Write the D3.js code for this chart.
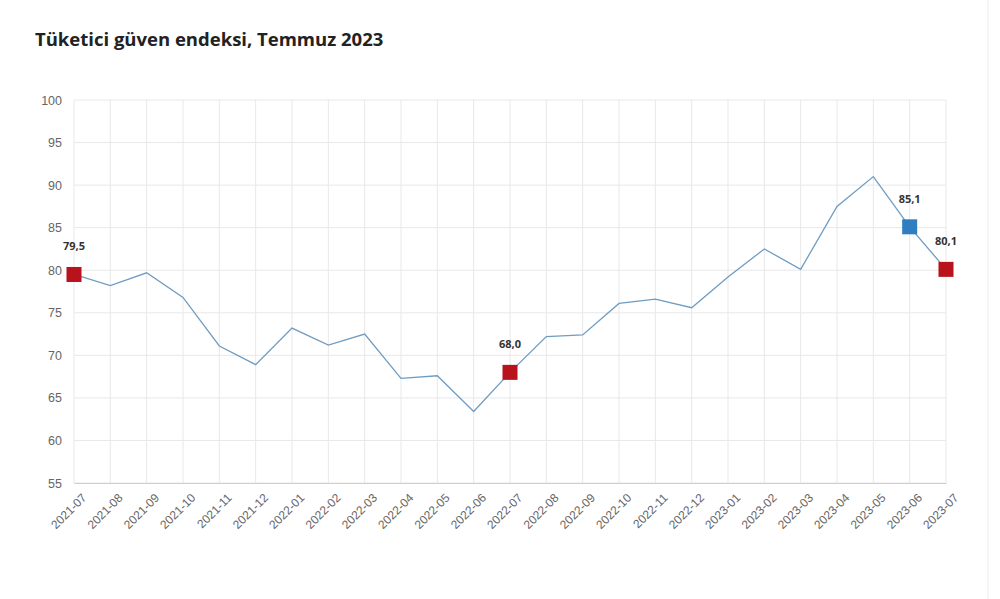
<!DOCTYPE html>
<html>
<head>
<meta charset="utf-8">
<script src="https://cdn.jsdelivr.net/npm/d3@7"></script>
<style>
  body { margin: 0; background: #fff; }
  svg { display: block; font-family: "Open Sans", "Noto Sans", sans-serif; }
</style>
</head>
<body>
<div id="chart"></div>
<script>
// data
const months = [
  "2021-07", "2021-08", "2021-09", "2021-10", "2021-11", "2021-12",
  "2022-01", "2022-02", "2022-03", "2022-04", "2022-05", "2022-06",
  "2022-07", "2022-08", "2022-09", "2022-10", "2022-11", "2022-12",
  "2023-01", "2023-02", "2023-03", "2023-04", "2023-05", "2023-06", "2023-07"
];
const values = [
  79.5, 78.2, 79.7, 76.8, 71.1, 68.9,
  73.2, 71.2, 72.5, 67.3, 67.6, 63.4,
  68.0, 72.2, 72.4, 76.1, 76.6, 75.6,
  79.2, 82.5, 80.1, 87.5, 91.0, 85.1, 80.1
];
const highlights = [
  {month: "2021-07", kind: "red"},
  {month: "2022-07", kind: "red"},
  {month: "2023-06", kind: "blue"},
  {month: "2023-07", kind: "red"}
];
const yTicks = [55, 60, 65, 70, 75, 80, 85, 90, 95, 100];
const title = "Tüketici güven endeksi, Temmuz 2023";

const width = 1000, height = 599;
const margin = {top: 100, right: 54, bottom: 116, left: 74};
const innerW = width - margin.left - margin.right;
const innerH = height - margin.top - margin.bottom;

const data = months.map((m, i) => ({month: m, value: values[i]}));

const svg = d3.select("#chart").append("svg")
  .attr("width", width)
  .attr("height", height);

// title
svg.append("text")
  .attr("x", 35)
  .attr("y", 46)
  .attr("font-size", 18.5)
  .attr("font-weight", "bold")
  .attr("fill", "#222")
  .text(title);

// faint page edge on the right
svg.append("line")
  .attr("x1", 988).attr("x2", 988)
  .attr("y1", 0).attr("y2", height)
  .attr("stroke", "#ececec");

const chart = svg.append("g")
  .attr("transform", `translate(${margin.left},${margin.top})`);

const xScale = d3.scalePoint()
  .domain(months)
  .range([0, innerW]);

const yScale = d3.scaleLinear()
  .domain([55, 100])
  .range([innerH, 0]);

// grid
chart.append("g")
  .selectAll("line")
  .data(yTicks)
  .join("line")
  .attr("x1", 0).attr("x2", innerW)
  .attr("y1", d => yScale(d)).attr("y2", d => yScale(d))
  .attr("stroke", "#e8e8e8");

chart.append("g")
  .selectAll("line")
  .data(months)
  .join("line")
  .attr("x1", d => xScale(d)).attr("x2", d => xScale(d))
  .attr("y1", 0).attr("y2", innerH)
  .attr("stroke", "#e8e8e8");

// axes
const yAxis = d3.axisLeft(yScale)
  .tickValues(yTicks)
  .tickSize(0)
  .tickPadding(12);

const yAxisGroup = chart.append("g").call(yAxis);
yAxisGroup.select(".domain").remove();
yAxisGroup.selectAll("text")
  .attr("font-size", 12.5)
  .attr("fill", "#666");

const xAxis = d3.axisBottom(xScale)
  .tickSize(0)
  .tickPadding(14);

const xAxisGroup = chart.append("g")
  .attr("transform", `translate(0,${innerH})`)
  .call(xAxis);
xAxisGroup.select(".domain").attr("stroke", "#cfcfcf");
xAxisGroup.selectAll("text")
  .attr("font-size", 12)
  .attr("fill", "#666")
  .attr("text-anchor", "end")
  .attr("dx", "-2")
  .attr("dy", "0.5em")
  .attr("transform", "rotate(-45)");

// line
const line = d3.line()
  .x(d => xScale(d.month))
  .y(d => yScale(d.value));

chart.append("path")
  .datum(data)
  .attr("fill", "none")
  .attr("stroke", "#6f9cc2")
  .attr("stroke-width", 1.3)
  .attr("d", line);

// highlighted markers
const colors = {red: "#b8121c", blue: "#2f7fc0"};
const size = 15;
const marked = highlights.map(h => ({...h, value: values[months.indexOf(h.month)]}));

chart.selectAll(".marker")
  .data(marked)
  .join("rect")
  .attr("class", "marker")
  .attr("x", d => xScale(d.month) - size / 2)
  .attr("y", d => yScale(d.value) - size / 2)
  .attr("width", size)
  .attr("height", size)
  .attr("fill", d => colors[d.kind]);

chart.selectAll(".mlabel")
  .data(marked)
  .join("text")
  .attr("class", "mlabel")
  .attr("x", d => xScale(d.month))
  .attr("y", d => yScale(d.value) - 24)
  .attr("text-anchor", "middle")
  .attr("font-size", 11)
  .attr("font-weight", "bold")
  .attr("fill", "#333")
  .text(d => d.value.toFixed(1).replace(".", ","));
</script>
</body>
</html>
